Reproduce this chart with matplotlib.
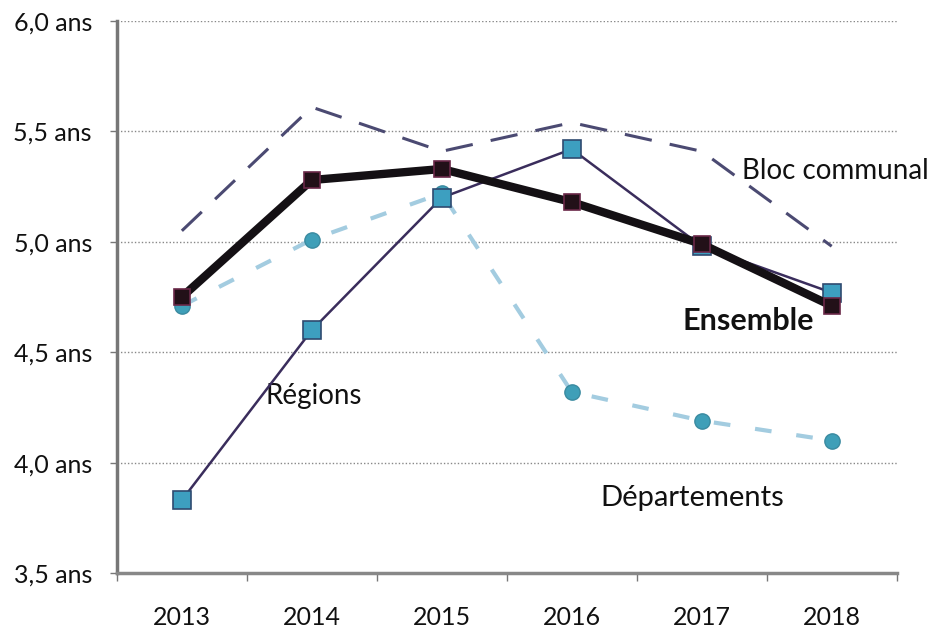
import numpy as np
import matplotlib
matplotlib.use("Agg")
import matplotlib.pyplot as plt

# data
annees = ["2013", "2014", "2015", "2016", "2017", "2018"]
bloc_communal = [5.05, 5.61, 5.41, 5.54, 5.41, 4.98]
ensemble = [4.75, 5.28, 5.33, 5.18, 4.99, 4.71]
regions = [3.83, 4.60, 5.20, 5.42, 4.98, 4.77]
departements = [4.71, 5.01, 5.22, 4.32, 4.19, 4.10]
yticks = [3.5, 4.0, 4.5, 5.0, 5.5, 6.0]

plt.rcParams['font.family'] = ['Lato', 'DejaVu Sans']

fig = plt.figure(figsize=(9.35, 6.34), dpi=100)
ax = fig.add_axes([0.125, 0.0962, 0.834, 0.8706])

x = np.arange(len(annees))

# Départements: light dashed line, teal circles
ax.plot(x, departements, color="#a3cce0", lw=3, dashes=(4, 6), zorder=2)
ax.plot(x, departements, ls="none", marker="o", ms=11, mfc="#3f9fb8",
        mec="#3a8aa0", zorder=3)

# Bloc communal: long dashes, no markers
ax.plot(x, bloc_communal, color="#4b4a72", lw=2.2, dashes=(9, 6), zorder=2)

# Régions: thin dark line, teal squares
ax.plot(x, regions, color="#3a2d5c", lw=1.8, zorder=4, marker="s", ms=13,
        mfc="#3d9fc0", mec="#2f4a70", mew=1.2)

# Ensemble: thick black line, dark squares
ax.plot(x, ensemble, color="#141014", lw=6, zorder=5, marker="s", ms=12,
        mfc="#221018", mec="#6a2848", mew=1.2)

ax.set_xlim(-0.5, len(annees) - 0.5)
ax.set_ylim(3.5, 6.0)
ax.set_yticks(yticks)
ax.set_yticklabels([f"{v:.1f}".replace(".", ",") + " ans" for v in yticks])
ax.set_xticks(x)
ax.set_xticklabels(annees)
ax.set_xticks(np.arange(-0.5, len(annees)), minor=True)

ax.grid(axis="y", color="#888888", lw=1.0, ls=(0, (1, 1.5)))
ax.set_axisbelow(True)

for s in ["top", "right"]:
    ax.spines[s].set_visible(False)
ax.spines["left"].set_color("#777777")
ax.spines["left"].set_linewidth(2.5)
ax.spines["bottom"].set_color("#888888")
ax.spines["bottom"].set_linewidth(2.5)

ax.tick_params(axis="y", length=5, width=1, color="#777777", pad=13,
               labelsize=18, labelcolor="#111111")
ax.tick_params(axis="x", which="major", length=0, pad=24, labelsize=18,
               labelcolor="#111111")
ax.tick_params(axis="x", which="minor", length=6, width=1, color="#777777")

# series labels
ax.text(4.31, 5.32, "Bloc communal", fontsize=20, color="#111111", va="center")
ax.text(3.85, 4.64, "Ensemble", fontsize=22, fontweight="bold",
        color="#111111", va="center")
ax.text(0.64, 4.30, "Régions", fontsize=20, color="#111111", va="center")
ax.text(3.22, 3.84, "Départements", fontsize=21, color="#111111", va="center")

fig.savefig("out.png", dpi=100)
